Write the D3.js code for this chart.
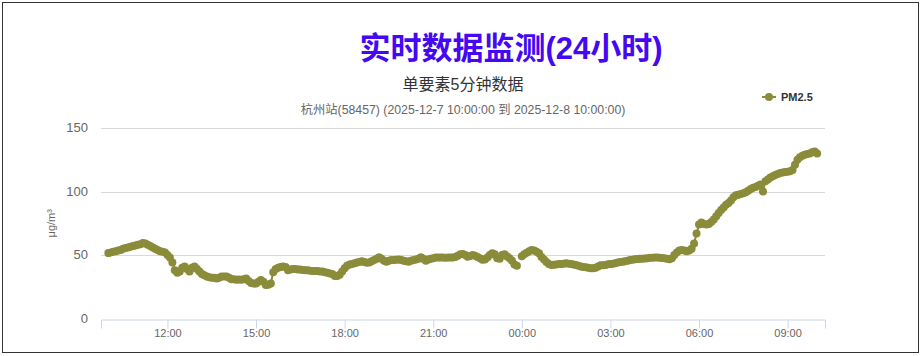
<!DOCTYPE html>
<meta charset="utf-8">
<style>
body{
  margin: 0;
  background: #fff;
}
#frame{
  position: absolute;
  left: 2px;
  top: 2px;
  width: 915px;
  height: 349px;
  border: 1px solid #333;
}
svg{
  position: absolute;
  left: 0;
  top: 0;
  font-family: "Liberation Sans", Arial, "Noto Sans CJK SC", sans-serif;
}
</style>

<div id="frame"></div>
<svg width="921" height="356"></svg>
<script src="https://d3js.org/d3.v7.min.js"></script>
<script>

// PM2.5, 5-minute samples from 2025-12-7 10:00 to 2025-12-8 10:00 (one row per hour)
var pm25 = [
  51.5,52,52.5,53,53.5,54,55,55.5,56,56.5,57,57.5,          // 10
  58,58.5,59.5,59,58,57,56,55,54,53,52.5,52,                 // 11
  50,48,44,38,36,37,40,41,39,37,40,41,                       // 12
  39,37,35,34,33,32.5,32,32,31.5,32,33,33,                   // 13
  33,32,31,31,30.5,30.8,30.5,31,31.5,29.5,28,27.5,           // 14
  27.5,29,30.3,29,26.4,26.5,27.5,36.5,39,40,40.5,41,         // 15
  40.5,38,38.5,39,39,38.5,38.5,38.2,38,38,37.6,37.5,         // 16
  37.5,37.5,37,37,36.5,36,35.5,35,33.5,33.5,34.5,37,         // 17
  39.5,41.5,42.5,43,43.5,44,44.5,45,44.5,43.8,44,45,         // 18
  46,47,48.2,47,45.5,44.7,45.5,46,46,46.2,46.5,46,           // 19
  45.5,45,44.7,45.5,46,46.5,47,48.2,47,45.5,46.5,47,         // 20
  47.5,48,48,48,48,47.8,48,48,48,48.5,49.5,50.5,             // 21
  50.8,50,48.7,49.2,50,49.5,48.5,47.5,46.2,46.5,48,50,       // 22
  51.3,50.5,47.5,47,50,50.5,48.8,47.5,45.5,42.5,41.5,null,   // 23
  49,50.5,51.8,53,54,53.5,52.5,51.3,48.5,46.5,44.5,43,       // 00
  42.1,42.3,42.5,42.9,43,43.2,43.5,43.2,43,42.5,42.1,41.5,   // 01
  41,40.5,40.3,40,39.5,39.5,40,41,41.9,42,42.2,42.8,         // 02
  43,43.2,43.5,44,44.5,44.7,45,45.5,46,46.3,46.6,46.8,       // 03
  47,47,47.2,47.5,47.9,47.9,48,48,47.8,47.6,47.4,47,         // 04
  46.6,47.5,50,52,53.5,54,53.5,53,53.5,55,59,67,             // 05
  74,75.5,74.5,74,74.5,76,78,80.5,83,85.5,87.5,89.5,         // 06
  91,93,95.5,97,97.5,98,98.6,99.5,100.5,102,103,103.5,       // 07
  104.5,105.5,100,108,109.5,111,112,113,113.8,114.5,115,115.3, // 08
  115.6,116,117,121,125,127,128.2,129,129.5,130,131,131.5,   // 09
  130                                                        // 10
];
var startTime = new Date(2025, 11, 7, 10, 0);
var stepMinutes = 5;
var yTicks = [0, 50, 100, 150];

var title = "实时数据监测(24小时)",
    subtitle = "单要素5分钟数据",
    stationLine = "杭州站(58457) (2025-12-7 10:00:00 到 2025-12-8 10:00:00)",
    seriesName = "PM2.5",
    unit = "μg/m³";

var color = "#8a8c3a";

var svg = d3.select("svg");

// plot box
var plotLeft = 101, plotRight = 825, plotTop = 128, plotBottom = 318.5;

var data = pm25.map(function(v, i) {
  return {t: d3.timeMinute.offset(startTime, i * stepMinutes), v: v};
});

var x = d3.scaleTime()
    .domain([new Date(2025, 11, 7, 9, 45), new Date(2025, 11, 8, 10, 16)])
    .range([plotLeft, plotRight]);

var y = d3.scaleLinear()
    .domain([0, 150])
    .range([plotBottom, plotTop]);

// grid
svg.append("g")
  .selectAll("line")
  .data(yTicks.filter(function(d) { return d > 0; }))
  .enter().append("line")
    .attr("x1", plotLeft).attr("x2", plotRight)
    .attr("y1", function(d) { return Math.round(y(d)) + 0.5; })
    .attr("y2", function(d) { return Math.round(y(d)) + 0.5; })
    .attr("stroke", "#d8d8d8");

// y labels
svg.append("g")
  .selectAll("text")
  .data(yTicks)
  .enter().append("text")
    .attr("x", 88)
    .attr("y", function(d) { return y(d) + 4; })
    .attr("text-anchor", "end")
    .attr("fill", "#666")
    .style("font-size", "13px")
    .text(function(d) { return d; });

svg.append("text")
  .attr("transform", "translate(55," + ((plotTop + plotBottom) / 2) + ") rotate(-90)")
  .attr("text-anchor", "middle")
  .attr("fill", "#666")
  .style("font-size", "11px")
  .text(unit);

// x axis
var xAxis = svg.append("g")
  .attr("transform", "translate(0," + (Math.round(plotBottom) + 0.5) + ")")
  .call(d3.axisBottom(x)
    .ticks(d3.timeHour.every(3))
    .tickFormat(d3.timeFormat("%H:%M"))
    .tickSize(9)
    .tickPadding(1));
xAxis.select(".domain").attr("stroke", "#ccd6eb");
xAxis.selectAll(".tick line").attr("stroke", "#ccd6eb");
xAxis.selectAll(".tick text")
  .attr("fill", "#666")
  .style("font-size", "11px")
  .style("font-family", "\"Liberation Sans\", Arial, sans-serif");

// series
var line = d3.line()
    .defined(function(d) { return d.v != null; })
    .x(function(d) { return x(d.t); })
    .y(function(d) { return y(d.v); });

svg.append("path")
  .datum(data)
  .attr("d", line)
  .attr("fill", "none")
  .attr("stroke", color)
  .attr("stroke-width", 2);

svg.append("g")
  .selectAll("circle")
  .data(data.filter(function(d) { return d.v != null; }))
  .enter().append("circle")
    .attr("cx", function(d) { return x(d.t); })
    .attr("cy", function(d) { return y(d.v); })
    .attr("r", 4)
    .attr("fill", color);

// titles
svg.append("text")
  .attr("x", 511).attr("y", 59)
  .attr("text-anchor", "middle")
  .attr("fill", "#4408f2")
  .style("font-size", "31px")
  .style("font-weight", "bold")
  .text(title);

svg.append("text")
  .attr("x", 463).attr("y", 90)
  .attr("text-anchor", "middle")
  .attr("fill", "#333")
  .style("font-size", "16px")
  .text(subtitle);

svg.append("text")
  .attr("x", 463).attr("y", 114)
  .attr("text-anchor", "middle")
  .attr("fill", "#666")
  .style("font-size", "12.3px")
  .text(stationLine);

// legend
var legend = svg.append("g").attr("transform", "translate(762,97)");
legend.append("line")
  .attr("x1", 0).attr("x2", 14)
  .attr("stroke", color).attr("stroke-width", 2);
legend.append("circle")
  .attr("cx", 7).attr("r", 4).attr("fill", color);
legend.append("text")
  .attr("x", 19).attr("y", 4)
  .attr("fill", "#333")
  .style("font-size", "11px")
  .style("font-weight", "bold")
  .text(seriesName);

</script>
